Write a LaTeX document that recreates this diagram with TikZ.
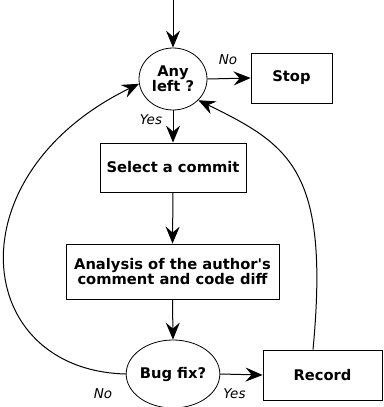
\documentclass[tikz,border=0pt]{standalone}
\usepackage{fontspec}
\newfontfamily\dv{DejaVu Sans}
\usetikzlibrary{arrows.meta,shapes.geometric}
\tikzset{
  arr/.style={-{Stealth[length=17pt,width=14pt,inset=6pt]}, line width=1pt},
  proc/.style={draw, line width=0.8pt, rectangle, inner sep=0pt, align=center,
    font=\dv\fontsize{14.7}{15}\selectfont\bfseries},
  dec/.style={draw, line width=0.8pt, ellipse, inner sep=0pt, align=center,
    font=\dv\fontsize{14.7}{15}\selectfont\bfseries},
  lab/.style={font=\dv\fontsize{13.5}{13.5}\selectfont\itshape, inner sep=0pt}
}
\begin{document}
\begin{tikzpicture}[x=1pt,y=-1pt]
\useasboundingbox (0,0) rectangle (383,407);
\coordinate (start) at (173,0);
\node[dec, minimum width=68pt, minimum height=62pt] (any) at (173,79) {Any\\left ?};
\node[proc, minimum width=81pt, minimum height=50pt] (stop) at (291.5,78) {Stop};
\node[proc, minimum width=146pt, minimum height=49pt] (sel) at (173,167.5) {Select a commit};
\node[proc, minimum width=213pt, minimum height=55pt] (ana) at (172.5,271.5) {Analysis of the author's\\comment and code diff};
\node[dec, minimum width=82pt, minimum height=68pt] (bug) at (173,374) {Bug fix?};
\node[proc, minimum width=119pt, minimum height=50pt] (rec) at (322.5,375) {Record};
\node[lab] (lno) at (228,60) {No};
\node[lab] (lyes) at (151,120) {Yes};
\node[lab] (bno) at (103,394) {No};
\node[lab] (byes) at (234.5,394) {Yes};
\draw[arr] (start) -- (any.north);
\draw[arr] (any.east) -- (stop.west);
\draw[arr] (any.south) -- (sel.north);
\draw[arr] (sel.south) -- (ana.north);
\draw[arr] (ana.south) -- (bug.north);
\draw[arr] (bug.east) -- (rec.west);
\draw[arr] (bug.west) .. controls (-28,370) and (-48,175) .. (any.188);
\draw[arr] (rec.north -| 313,0) .. controls (330,170) and (290,145) .. (any.-40);
\end{tikzpicture}
\end{document}
